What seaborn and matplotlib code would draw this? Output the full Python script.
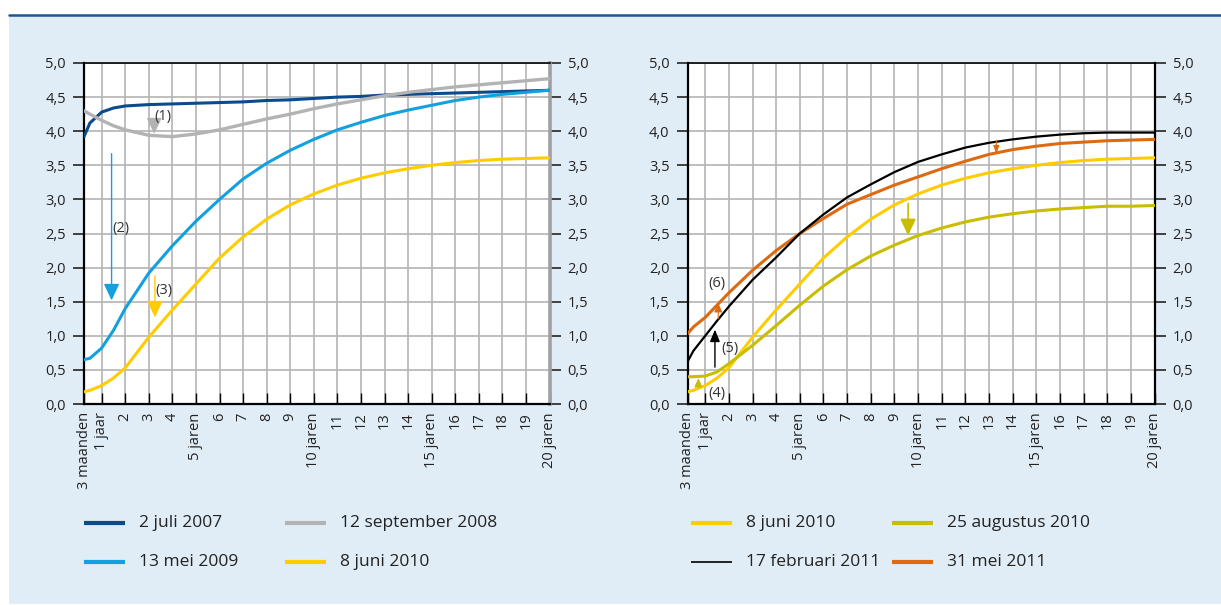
import matplotlib
matplotlib.use("Agg")
import matplotlib.pyplot as plt
from matplotlib.lines import Line2D
from matplotlib.patches import Rectangle
import seaborn as sns
import numpy as np

# ---------------- data ----------------
looptijd = [0.25, 0.5, 1, 1.5, 2, 3, 4, 5, 6, 7, 8, 9, 10, 11, 12, 13, 14, 15, 16, 17, 18, 19, 20]

juli_2007 = [3.92, 4.12, 4.28, 4.34, 4.37, 4.39, 4.40, 4.41, 4.42, 4.43, 4.45, 4.46, 4.48, 4.50, 4.51, 4.53, 4.54, 4.55, 4.56, 4.57, 4.58, 4.59, 4.60]
sep_2008 = [4.30, 4.25, 4.16, 4.08, 4.02, 3.94, 3.92, 3.96, 4.02, 4.10, 4.18, 4.25, 4.33, 4.40, 4.46, 4.52, 4.57, 4.61, 4.65, 4.68, 4.71, 4.74, 4.77]
mei_2009 = [0.65, 0.67, 0.82, 1.08, 1.40, 1.92, 2.32, 2.68, 3.00, 3.30, 3.53, 3.72, 3.88, 4.02, 4.13, 4.23, 4.31, 4.38, 4.45, 4.50, 4.54, 4.57, 4.60]
juni_2010 = [0.18, 0.20, 0.27, 0.38, 0.53, 0.98, 1.38, 1.76, 2.14, 2.45, 2.71, 2.92, 3.08, 3.21, 3.31, 3.39, 3.45, 3.50, 3.54, 3.57, 3.59, 3.60, 3.61]
aug_2010 = [0.40, 0.40, 0.41, 0.47, 0.59, 0.86, 1.15, 1.45, 1.73, 1.97, 2.17, 2.33, 2.47, 2.58, 2.67, 2.74, 2.79, 2.83, 2.86, 2.88, 2.90, 2.90, 2.91]
feb_2011 = [0.62, 0.78, 1.00, 1.22, 1.43, 1.82, 2.15, 2.50, 2.78, 3.03, 3.22, 3.40, 3.55, 3.66, 3.76, 3.83, 3.88, 3.92, 3.95, 3.97, 3.98, 3.98, 3.98]
mei_2011 = [1.03, 1.13, 1.27, 1.45, 1.63, 1.96, 2.25, 2.50, 2.72, 2.93, 3.07, 3.21, 3.33, 3.45, 3.56, 3.66, 3.73, 3.78, 3.82, 3.84, 3.86, 3.87, 3.88]

labels_links = ["2 juli 2007", "12 september 2008", "13 mei 2009", "8 juni 2010"]
labels_rechts = ["8 juni 2010", "25 augustus 2010", "17 februari 2011", "31 mei 2011"]

x_ticks = [0.25, 1, 2, 3, 4, 5, 6, 7, 8, 9, 10, 11, 12, 13, 14, 15, 16, 17, 18, 19, 20]
x_ticklabels = ["3 maanden", "1 jaar", "2", "3", "4", "5 jaren", "6", "7", "8", "9", "10 jaren",
                "11", "12", "13", "14", "15 jaren", "16", "17", "18", "19", "20 jaren"]
y_ticks = [0.0, 0.5, 1.0, 1.5, 2.0, 2.5, 3.0, 3.5, 4.0, 4.5, 5.0]
y_ticklabels = ["0,0", "0,5", "1,0", "1,5", "2,0", "2,5", "3,0", "3,5", "4,0", "4,5", "5,0"]

# ---------------- style ----------------
C_DARK = "#0b4a8c"
C_GREY = "#b3b3b3"
C_LBLUE = "#12a0df"
C_YEL = "#ffcc00"
C_OLIVE = "#c9bd00"
C_BLACK = "#000000"
C_ORANGE = "#dd6a10"
BG = "#e1edf6"
TXT = "#222222"

sns.set_theme(style="white")
plt.rcParams["font.family"] = ["Open Sans", "DejaVu Sans"]
plt.rcParams["text.color"] = TXT

W, H = 1221, 605
fig = plt.figure(figsize=(W / 100, H / 100), dpi=100)
fig.patch.set_facecolor("white")
fig.add_artist(Rectangle((9 / W, 1 / H), 1 - 9 / W, 1 - 16 / H, transform=fig.transFigure,
                         facecolor=BG, edgecolor="none", zorder=-10))
fig.add_artist(Line2D([9 / W, 1], [1 - 14.5 / H, 1 - 14.5 / H], transform=fig.transFigure,
                      color="#1b5694", lw=1.8))

def fx(px):
    return px / W

def fy(py):
    return 1 - py / H

ax1 = fig.add_axes([fx(84), fy(404), fx(549.5) - fx(84), fy(63) - fy(404)])
ax2 = fig.add_axes([fx(687.5), fy(404), fx(1154.5) - fx(687.5), fy(63) - fy(404)])

left_series = [(juli_2007, C_DARK, 2.2), (sep_2008, C_GREY, 2.4), (mei_2009, C_LBLUE, 2.2), (juni_2010, C_YEL, 2.2)]
right_series = [(juni_2010, C_YEL, 2.2), (aug_2010, C_OLIVE, 2.2), (mei_2011, C_ORANGE, 2.2), (feb_2011, C_BLACK, 1.6)]

for ax, series in [(ax1, left_series), (ax2, right_series)]:
    ax.set_facecolor("white")
    for vals, col, lw in series:
        sns.lineplot(x=looptijd, y=vals, color=col, linewidth=lw, ax=ax, zorder=3)
    ax.set_xlim(0.25, 20)
    ax.set_ylim(0, 5)
    ax.set_xticks(x_ticks)
    ax.set_xticklabels(x_ticklabels, rotation=90, fontsize=10.5, color=TXT)
    ax.set_yticks(y_ticks)
    ax.set_yticklabels(y_ticklabels, fontsize=10.5, color=TXT)
    ax.grid(True, color="#b4b4b4", lw=1.2, zorder=0)
    ax.set_axisbelow(True)
    ax.tick_params(axis="x", direction="in", length=8, width=1, color="black", pad=6,
                   bottom=True, top=False)
    ax.tick_params(axis="y", direction="out", length=8, width=1.3, color="#333333", pad=5,
                   left=True, right=True, labelleft=True, labelright=True)
    for lbl in ax.get_xticklabels():
        lbl.set_verticalalignment("top")
    for s in ["left", "bottom", "top"]:
        ax.spines[s].set_visible(True)
        ax.spines[s].set_color("black")
    ax.spines["left"].set_linewidth(1.6)
    ax.spines["bottom"].set_linewidth(1.6)
    ax.spines["top"].set_linewidth(1.2)
    ax.set_xlabel("")
    ax.set_ylabel("")

ax1.spines["right"].set_color("#a0a0a0")
ax1.spines["right"].set_linewidth(2.6)
ax2.spines["right"].set_color("black")
ax2.spines["right"].set_linewidth(1.6)

def arrow(ax, x, y0, y1, col, lw=1.0, hl=0.8, hw=0.35):
    ax.annotate("", xy=(x, y1), xytext=(x, y0),
                arrowprops=dict(arrowstyle=f"-|>,head_length={hl},head_width={hw}",
                                color=col, lw=lw, shrinkA=0, shrinkB=0), zorder=5)

def label(ax, x, y, s):
    ax.text(x, y, s, fontsize=10.5, color="#333333", ha="center", va="center", zorder=6)

# left annotations
arrow(ax1, 3.23, 4.14, 3.96, C_GREY, lw=1.2, hl=0.8, hw=0.38)
label(ax1, 3.6, 4.21, "(1)")
arrow(ax1, 1.42, 3.67, 1.52, C_LBLUE, lw=1.0, hl=0.85, hw=0.4)
label(ax1, 1.81, 2.58, "(2)")
arrow(ax1, 3.26, 1.88, 1.27, C_YEL, lw=1.0, hl=0.85, hw=0.4)
label(ax1, 3.65, 1.67, "(3)")

# right annotations
arrow(ax2, 0.71, 0.24, 0.38, C_OLIVE, lw=0.8, hl=0.45, hw=0.2)
label(ax2, 1.48, 0.15, "(4)")
arrow(ax2, 1.41, 0.54, 1.09, C_BLACK, lw=1.0, hl=0.6, hw=0.25)
label(ax2, 2.05, 0.81, "(5)")
arrow(ax2, 1.55, 1.25, 1.48, C_ORANGE, lw=0.8, hl=0.45, hw=0.2)
label(ax2, 1.48, 1.76, "(6)")
arrow(ax2, 9.58, 2.94, 2.47, C_OLIVE, lw=1.2, hl=0.85, hw=0.4)
arrow(ax2, 13.31, 3.86, 3.67, C_ORANGE, lw=0.8, hl=0.4, hw=0.15)

# legends (fixed grid positions)
def legend_entry(xh, y, label_txt, col, lw):
    fig.add_artist(Line2D([fx(xh), fx(xh + 41)], [fy(y), fy(y)], transform=fig.transFigure,
                          color=col, lw=lw, solid_capstyle="butt"))
    fig.text(fx(xh + 55), fy(y), label_txt, fontsize=12.5, color=TXT, va="center", ha="left")

leg_left = [(labels_links[0], C_DARK, 3), (labels_links[1], C_GREY, 3),
            (labels_links[2], C_LBLUE, 3), (labels_links[3], C_YEL, 3)]
leg_right = [(labels_rechts[0], C_YEL, 3), (labels_rechts[1], C_OLIVE, 3),
             (labels_rechts[2], C_BLACK, 1.2), (labels_rechts[3], C_ORANGE, 3)]

for base_x, entries in [(84, leg_left), (691, leg_right)]:
    for i, (txt, col, lw) in enumerate(entries):
        row, colidx = divmod(i, 2)
        legend_entry(base_x + colidx * 201, 523 + row * 39, txt, col, lw)

fig.savefig("out.png", dpi=100, facecolor=fig.get_facecolor())
